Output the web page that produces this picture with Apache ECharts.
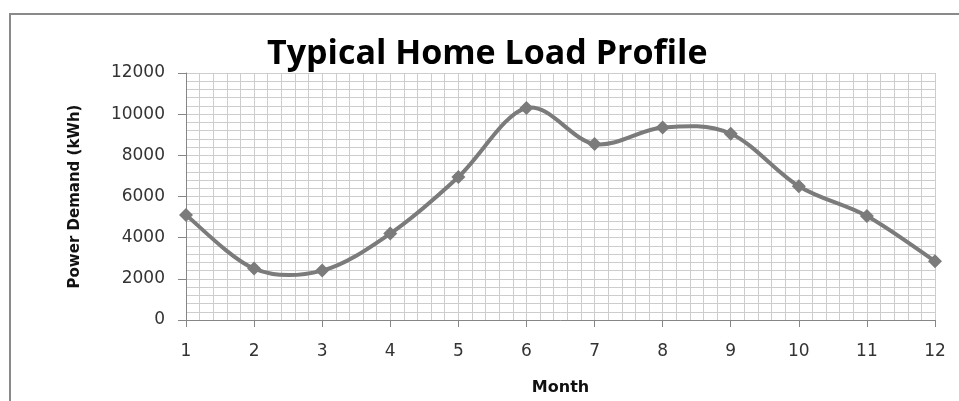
<!DOCTYPE html>
<html>
<head>
<meta charset="utf-8">
<script src="https://cdn.jsdelivr.net/npm/echarts@6/dist/echarts.min.js"></script>
<style>
  html, body { margin: 0; padding: 0; background: #fff; }
  #chart { width: 959px; height: 401px; }
</style>
</head>
<body>
<div id="chart"></div>
<script>
const months = [1, 2, 3, 4, 5, 6, 7, 8, 9, 10, 11, 12]
const demand = [5100, 2500, 2400, 4200, 6950, 10300, 8550, 9350, 9050, 6500, 5050, 2850]

const gridColor = '#cdcdcd'
const axisColor = '#868686'
const lineColor = '#7b7b7b'

const points = months.map((m, i) => [m, demand[i]])

// Excel-like smoothed segment between point i and i+1 (Catmull-Rom style, 1/6 tension)
const renderSegment = (params, api) => {
  const i = params.dataIndex
  if (i >= points.length - 1) return null
  const at = k => api.coord(points[Math.max(0, Math.min(points.length - 1, k))])
  const p0 = at(i - 1)
  const p1 = at(i)
  const p2 = at(i + 1)
  const p3 = at(i + 2)
  const t = 1 / 6
  return {
    type: 'bezierCurve',
    shape: {
      x1: p1[0], y1: p1[1],
      x2: p2[0], y2: p2[1],
      cpx1: p1[0] + (p2[0] - p0[0]) * t,
      cpy1: p1[1] + (p2[1] - p0[1]) * t,
      cpx2: p2[0] - (p3[0] - p1[0]) * t,
      cpy2: p2[1] - (p3[1] - p1[1]) * t
    },
    style: { stroke: lineColor, lineWidth: 4, fill: 'none', lineCap: 'round' }
  }
}

const myChart = echarts.init(document.getElementById('chart'))
const option = {
  animation: false,
  title: {
    text: 'Typical Home Load Profile',
    left: 262,
    top: 32,
    textStyle: {
      fontFamily: 'Open Sans',
      fontWeight: 'bold',
      fontSize: 34,
      color: '#000'
    }
  },
  graphic: [
    {
      type: 'rect',
      shape: { x: 10, y: 14, width: 1000, height: 500 },
      style: { fill: 'none', stroke: '#8a8a8a', lineWidth: 2 },
      silent: true
    }
  ],
  grid: {
    left: 186,
    right: 24,
    top: 73,
    bottom: 81
  },
  xAxis: {
    type: 'value',
    min: 1,
    max: 12,
    interval: 1,
    name: 'Month',
    nameLocation: 'middle',
    nameGap: 60,
    nameTextStyle: {
      fontFamily: 'DejaVu Sans',
      fontWeight: 'bold',
      fontSize: 16,
      color: '#111'
    },
    axisLine: { show: true, lineStyle: { color: axisColor, width: 1 } },
    axisTick: { show: true, length: 7, lineStyle: { color: axisColor } },
    axisLabel: {
      margin: 23,
      fontFamily: 'DejaVu Sans',
      fontSize: 17,
      color: '#333'
    },
    splitLine: { show: true, lineStyle: { color: gridColor, width: 1 } },
    minorTick: { show: false, splitNumber: 5 },
    minorSplitLine: { show: true, lineStyle: { color: gridColor, width: 1 } }
  },
  yAxis: {
    type: 'value',
    min: 0,
    max: 12000,
    interval: 2000,
    name: 'Power Demand (kWh)',
    nameLocation: 'middle',
    nameRotate: 90,
    nameGap: 103,
    nameTextStyle: {
      fontFamily: 'DejaVu Sans',
      fontWeight: 'bold',
      fontSize: 15,
      color: '#111'
    },
    axisLine: { show: true, lineStyle: { color: axisColor, width: 1 } },
    axisTick: { show: true, length: 8, lineStyle: { color: axisColor } },
    axisLabel: {
      margin: 21,
      fontFamily: 'DejaVu Sans',
      fontSize: 17,
      color: '#333',
      formatter: v => String(v)
    },
    splitLine: { show: true, lineStyle: { color: gridColor, width: 1 } },
    minorTick: { show: false, splitNumber: 5 },
    minorSplitLine: { show: true, lineStyle: { color: gridColor, width: 1 } }
  },
  series: [
    {
      name: 'curve',
      type: 'custom',
      data: points,
      encode: { x: 0, y: 1 },
      renderItem: renderSegment,
      z: 2,
      silent: true
    },
    {
      name: 'Power Demand',
      type: 'line',
      data: points,
      symbol: 'diamond',
      symbolSize: 14,
      showSymbol: true,
      itemStyle: { color: lineColor },
      lineStyle: { width: 0, opacity: 0 },
      z: 3
    }
  ]
}
myChart.setOption(option)
</script>
</body>
</html>
